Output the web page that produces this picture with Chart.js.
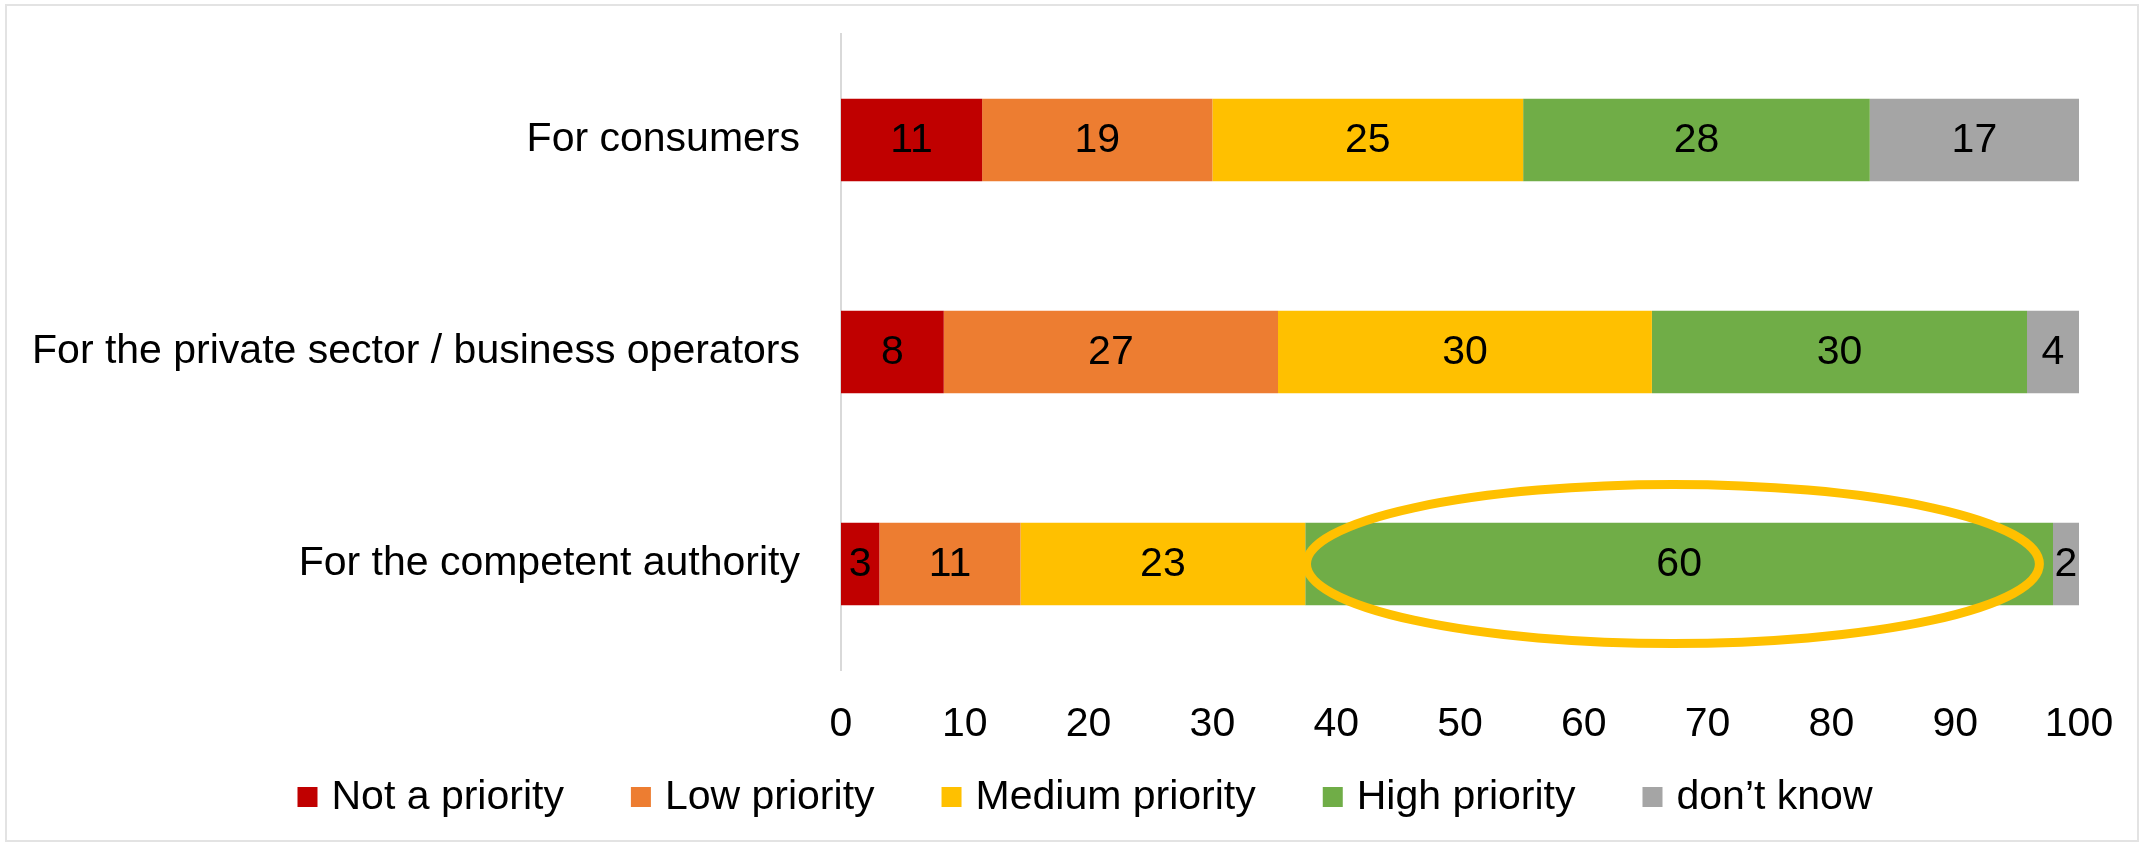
<!DOCTYPE html>
<html>
<head>
<meta charset="utf-8">
<script src="https://cdn.jsdelivr.net/npm/chart.js@4/dist/chart.umd.min.js"></script>
<style>
	body { margin: 0; background: #fff; }
	#wrap { position: relative; width: 2144px; height: 846px; }
	#frame { position: absolute; left: 5px; top: 4px; width: 2130px; height: 834px; border: 2px solid #e3e3e3; pointer-events: none; }
</style>
</head>
<body>
<div id="wrap">
	<canvas id="main_chart" width="2144" height="846"></canvas>
	<div id="frame"></div>
</div>
<script>
const categories = ["For consumers", "For the private sector / business operators", "For the competent authority"];
const seriesNames = ["Not a priority", "Low priority", "Medium priority", "High priority", "don\u2019t know"];
const seriesColors = ["#C00000", "#ED7D31", "#FFC000", "#70AD47", "#A5A5A5"];

const notPriority = [11.4, 8.3, 3.1];
const lowPriority = [18.6, 27.0, 11.4];
const mediumPriority = [25.1, 30.2, 23.0];
const highPriority = [28.0, 30.3, 60.4];
const dontKnow = [16.9, 4.2, 2.1];

const xTicks = [0, 10, 20, 30, 40, 50, 60, 70, 80, 90, 100];

// highlight ring round the "High priority" bar of the competent authority
const ring = { category: 2, from: 37.6, to: 96.8, halfHeight: 0.375, color: "#FFC000", width: 9 };

const FONT = "'Liberation Sans', Arial, sans-serif";
const FONT_SIZE = 41;

const seriesValues = [notPriority, lowPriority, mediumPriority, highPriority, dontKnow];

function createDatasetCollection() {
	const dataset = [];
	for (let i = 0; i < seriesNames.length; i++) {
		dataset.push({
			label: seriesNames[i],
			data: seriesValues[i],
			backgroundColor: seriesColors[i],
			barPercentage: 0.39,
			categoryPercentage: 1,
		});
	}
	return dataset;
}

const barLabels = {
	id: 'barLabels',
	afterDatasetsDraw(chart) {
		const ctx = chart.ctx;
		ctx.save();
		ctx.font = FONT_SIZE + "px " + FONT;
		ctx.fillStyle = "#000";
		ctx.textAlign = "center";
		ctx.textBaseline = "middle";
		chart.data.datasets.forEach((ds, i) => {
			chart.getDatasetMeta(i).data.forEach((bar, j) => {
				ctx.fillText(Math.round(ds.data[j]), (bar.x + bar.base) / 2, bar.y + 1);
			});
		});
		ctx.restore();
	}
};

const ringPlugin = {
	id: 'ring',
	afterDraw(chart) {
		const x = chart.scales.x, y = chart.scales.y;
		const x0 = x.getPixelForValue(ring.from), x1 = x.getPixelForValue(ring.to);
		const cy = y.getPixelForValue(ring.category);
		const ry = (y.getPixelForValue(1) - y.getPixelForValue(0)) * ring.halfHeight;
		const ctx = chart.ctx;
		ctx.save();
		ctx.strokeStyle = ring.color;
		ctx.lineWidth = ring.width;
		ctx.beginPath();
		ctx.ellipse((x0 + x1) / 2, cy, (x1 - x0) / 2, ry, 0, 0, Math.PI * 2);
		ctx.stroke();
		ctx.restore();
	}
};

const bottomLegend = {
	id: 'bottomLegend',
	afterDraw(chart) {
		const ctx = chart.ctx;
		const box = 20, gap = 14, spacing = 67, cy = 797;
		ctx.save();
		ctx.font = FONT_SIZE + "px " + FONT;
		ctx.textBaseline = "middle";
		const widths = seriesNames.map(n => ctx.measureText(n).width);
		let total = spacing * (seriesNames.length - 1);
		widths.forEach(w => total += box + gap + w);
		let x = chart.width / 2 + 13 - total / 2;
		for (let i = 0; i < seriesNames.length; i++) {
			ctx.fillStyle = seriesColors[i];
			ctx.fillRect(x, cy - box / 2, box, box);
			ctx.fillStyle = "#000";
			ctx.fillText(seriesNames[i], x + box + gap, cy + 1);
			x += box + gap + widths[i] + spacing;
		}
		ctx.restore();
	}
};

new Chart(document.getElementById('main_chart'), {
	type: 'bar',
	data: {
		labels: categories,
		datasets: createDatasetCollection(),
	},
	options: {
		indexAxis: 'y',
		responsive: false,
		animation: false,
		layout: {
			padding: { top: 34, right: 65, left: 0, bottom: 0 },
		},
		scales: {
			y: {
				stacked: true,
				grid: { display: false, drawTicks: false },
				border: { display: true, color: "#d9d9d9", width: 2 },
				ticks: {
					color: "#000",
					padding: 41,
					font: { size: FONT_SIZE, family: FONT },
				},
				afterFit(scale) {
					scale.width = 841;
					scale.paddingTop = 0;
					scale.paddingBottom = 0;
				},
			},
			x: {
				stacked: true,
				min: 0,
				max: 100,
				grid: { display: false, drawTicks: false },
				border: { display: false },
				afterBuildTicks(scale) { scale.ticks = xTicks.map(v => ({ value: v })); },
				ticks: {
					color: "#000",
					padding: 30,
					maxRotation: 0,
					font: { size: FONT_SIZE, family: FONT },
				},
				afterFit(scale) { scale.height = 176; },
			}
		},
		plugins: {
			legend: { display: false },
			tooltip: { enabled: false },
		},
	},
	plugins: [barLabels, ringPlugin, bottomLegend],
});
</script>
</body>
</html>
